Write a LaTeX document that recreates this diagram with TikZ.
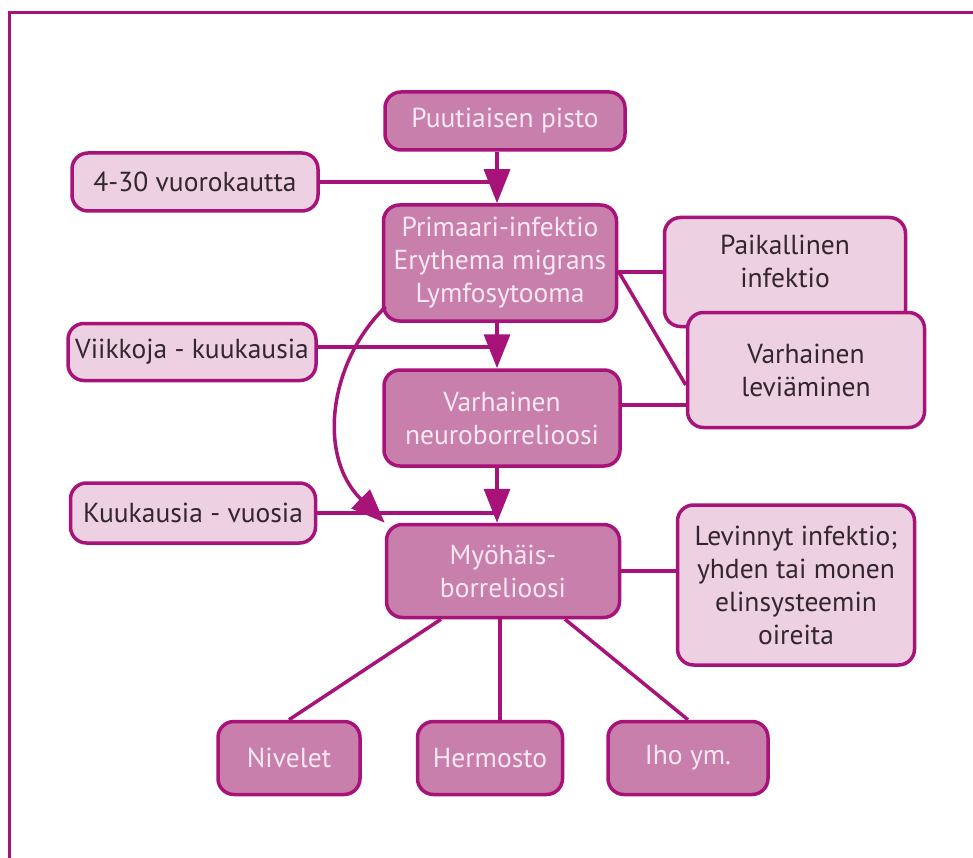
\documentclass[tikz,border=0pt]{standalone}
\usepackage{fontspec}
\setmainfont{PT Sans}
\usetikzlibrary{arrows.meta}
\definecolor{edge}{HTML}{A8137A}
\definecolor{darkfill}{HTML}{C97FAB}
\definecolor{lightfill}{HTML}{EDD0E2}
\definecolor{darktext}{HTML}{F7E8F1}
\definecolor{lighttext}{HTML}{33262E}
\tikzset{
  base/.style={draw=edge, line width=3.5pt, rounded corners=16pt, align=center, font=\fontsize{27.5}{33}\selectfont, inner sep=0pt},
  darkbox/.style={base, fill=darkfill, text=darktext},
  lightbox/.style={base, fill=lightfill, text=lighttext},
  conn/.style={draw=edge, line width=3.5pt},
  arr/.style={conn, -{Triangle[length=34pt,width=26pt]}},
}
\begin{document}
\begin{tikzpicture}[x=1pt,y=-1pt]
\useasboundingbox (0,0) rectangle (973,858);
\fill[white] (0,0) rectangle (973,858);
\draw[edge, line width=3pt] (9,860) -- (9,13) -- (975,13);

\node[darkbox, minimum width=240, minimum height=58] (pisto) at (505,121) {Puutiaisen pisto};
\node[lightbox, minimum width=246, minimum height=58] (vrk) at (195,182) {4-30 vuorokautta};
\node[darkbox, minimum width=233, minimum height=116] (prim) at (500,263) {Primaari-infektio\\Erythema migrans\\Lymfosytooma};
\node[lightbox, minimum width=241, minimum height=109] (paik) at (785,272) {};
\node[text=lighttext, align=center, font=\fontsize{27.5}{33}\selectfont] (paiktext) at (785,261) {Paikallinen\\infektio};
\node[lightbox, minimum width=237, minimum height=115] (lev) at (806,370) {Varhainen\\leviäminen};
\node[lightbox, minimum width=248, minimum height=57] (viik) at (192,352) {Viikkoja - kuukausia};
\node[darkbox, minimum width=236, minimum height=96] (neuro) at (502,418) {Varhainen\\neuroborrelioosi};
\node[lightbox, minimum width=245, minimum height=60] (kuuk) at (193,513) {Kuukausia - vuosia};
\node[darkbox, minimum width=233, minimum height=93] (myo) at (503,571) {Myöhäis-\\borrelioosi};
\node[lightbox, minimum width=237, minimum height=160] (levin) at (796,585) {Levinnyt infektio;\\yhden tai monen\\elinsysteemin\\oireita};
\node[darkbox, minimum width=142, minimum height=73] (niv) at (289,758) {Nivelet};
\node[darkbox, minimum width=145, minimum height=73] (herm) at (490,758) {Hermosto};
\node[darkbox, minimum width=160, minimum height=73] (iho) at (688,758) {Iho ym.};

% connectors
\coordinate (a1) at (497,150);
\draw[arr] (pisto.south -| a1) -- (prim.north -| a1);
\coordinate (j1) at (497,182);
\draw[conn] (vrk.east) -- (j1);
\draw[arr] (prim.south -| a1) -- (neuro.north -| a1);
\coordinate (j2) at (497,347);
\draw[conn] (viik.east |- j2) -- (j2);
\draw[arr] (neuro.south -| a1) -- (myo.north -| a1);
\coordinate (j3) at (497,513);
\draw[conn] (kuuk.east) -- (j3);
\draw[arr] (prim.south west) ++(4,-16) .. controls (330,360) and (316,455) .. (myo.north west);

\draw[conn] (prim.east |- paik.west) -- (paik.west);
\draw[conn] (prim.east) ++(0,8) -- (lev.west |- 0,385);
\draw[conn] (neuro.east |- 0,405) -- (lev.west |- 0,405);
\draw[conn] (myo.east) -- (levin.west |- myo.east);

\draw[conn] (myo.south) ++(-62,0) -- (niv.north);
\draw[conn] (myo.south -| 0,0) ++(500,0) -- (herm.north -| 500,0);
\draw[conn] (myo.south) ++(62,0) -- (iho.north);
\end{tikzpicture}
\end{document}
